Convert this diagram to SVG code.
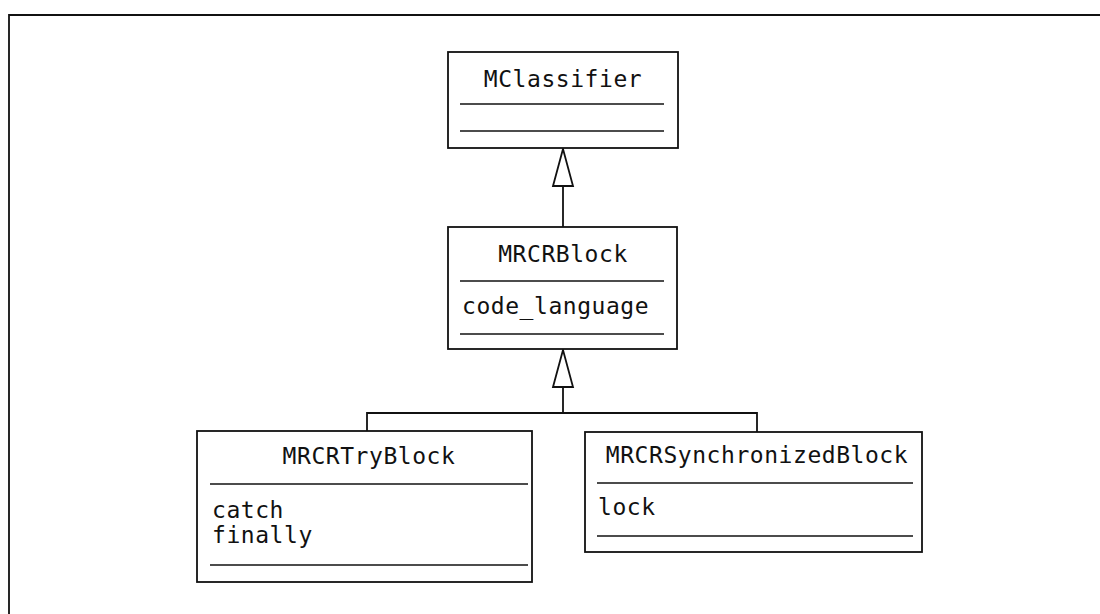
<svg xmlns="http://www.w3.org/2000/svg" width="1100" height="614" viewBox="0 0 1100 614">
<defs>
<style>
.box{fill:#fff;stroke:#111;stroke-width:1.8}
.sep{stroke:#111;stroke-width:1.6;fill:none}
.t{font-family:"DejaVu Sans Mono","Liberation Mono",monospace;font-size:23px;letter-spacing:0.55px;fill:#111}
.c{text-anchor:middle}
.con{stroke:#111;stroke-width:1.8;fill:none}
</style>
<marker id="gen" markerUnits="userSpaceOnUse" viewBox="-39 -12 41 24" refX="0" refY="0" markerWidth="41" markerHeight="24" orient="auto">
<path d="M-37,-10 L0,0 L-37,10 Z" fill="#fff" stroke="#111" stroke-width="1.8"/>
</marker>
</defs>
<rect width="1100" height="614" fill="#fff"/>
<path d="M9,614 L9,15 L1100,15" class="con"/>
<g id="connectors">
<line x1="563" y1="227" x2="563" y2="149" class="con" marker-end="url(#gen)"/>
<path d="M367,431 L367,413 L757,413 L757,432 M563,413 L563,350" class="con" marker-end="url(#gen)"/>
</g>
<g id="MClassifier">
<rect x="448" y="52" width="230" height="96" class="box"/>
<text x="563" y="87" class="t c">MClassifier</text>
<line x1="460" y1="104" x2="664" y2="104" class="sep"/>
<line x1="460" y1="131" x2="664" y2="131" class="sep"/>
</g>
<g id="MRCRBlock">
<rect x="448" y="227" width="229" height="122" class="box"/>
<text x="563" y="262" class="t c">MRCRBlock</text>
<line x1="460" y1="281" x2="664" y2="281" class="sep"/>
<text x="462" y="314" class="t">code_language</text>
<line x1="460" y1="334" x2="664" y2="334" class="sep"/>
</g>
<g id="MRCRTryBlock">
<rect x="197" y="431" width="335" height="151" class="box"/>
<text x="369" y="464" class="t c">MRCRTryBlock</text>
<line x1="210" y1="484" x2="528" y2="484" class="sep"/>
<text x="212" y="518" class="t">catch</text>
<text x="212" y="543" class="t">finally</text>
<line x1="210" y1="565" x2="528" y2="565" class="sep"/>
</g>
<g id="MRCRSynchronizedBlock">
<rect x="585" y="432" width="337" height="120" class="box"/>
<text x="757" y="463" class="t c">MRCRSynchronizedBlock</text>
<line x1="597" y1="483" x2="913" y2="483" class="sep"/>
<text x="598" y="515" class="t">lock</text>
<line x1="597" y1="536" x2="913" y2="536" class="sep"/>
</g>
</svg>
